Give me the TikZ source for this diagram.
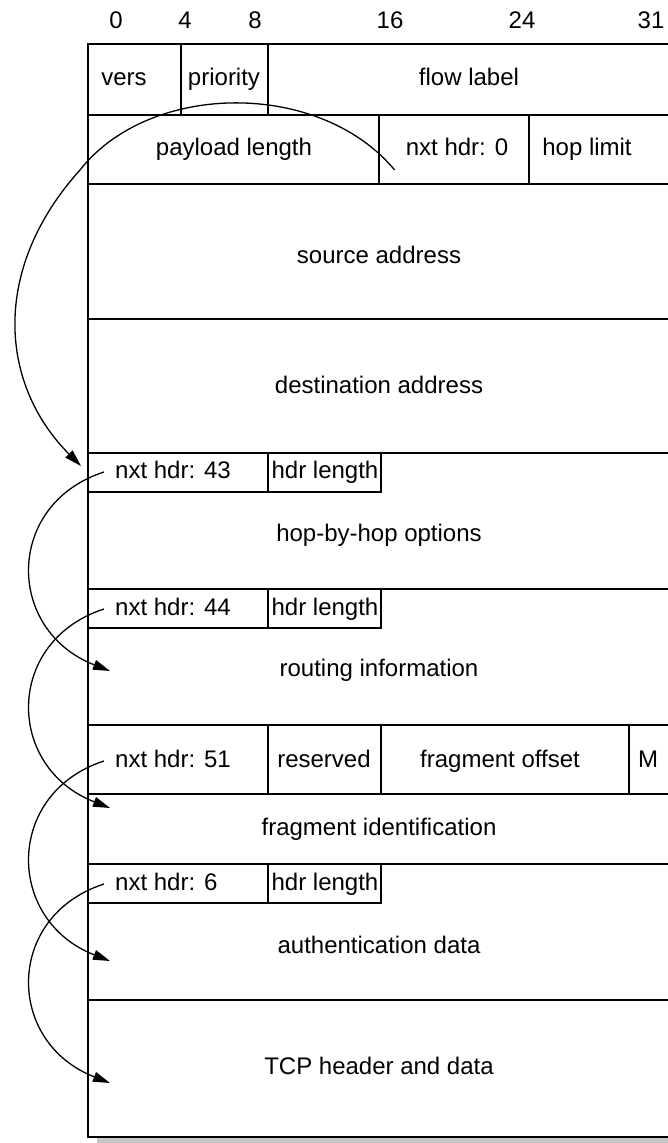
\documentclass[tikz,border=0pt]{standalone}
\usepackage{fontspec}
\setmainfont{Liberation Sans}
\usetikzlibrary{arrows.meta}
\begin{document}
\begin{tikzpicture}[x=1pt, y=-1pt,
        every node/.style={font=\fontsize{24}{28}\selectfont, inner sep=0pt, text height=17pt, text depth=5pt},
        box/.style={line width=1.8pt},
        nxt/.style={line width=1.3pt, -{Triangle[length=17pt, width=10pt]}}]
        \useasboundingbox (0,0) rectangle (668,1143);
        % ── frame with its shadow ──────────────────────────
        \fill[gray!45] (97,50) rectangle (678,1143);
        \filldraw[box, fill=white] (88,44) rectangle (670,1137);
        \foreach \y in {115,184,319,453,589,725,794,864,1000}
            \draw[box] (88,\y) -- (670,\y);
        % ── bit positions ──────────────────────────
        \foreach \x/\b in {116/0, 185/4, 255/8, 390/16, 522/24, 651/31}
            \node (bit\b) at (\x,22) {\b};
        % ── fixed IPv6 header ──────────────────────────
        \draw[box] (181,44) -- (181,115);
        \draw[box] (268,44) -- (268,115);
        \draw[box] (379,115) -- (379,184);
        \draw[box] (529,115) -- (529,184);
        \node (vers) at (124,79) {vers};
        \node (prio) at (224,79) {priority};
        \node (flow) at (469,79) {flow label};
        \node (plen) at (234,149) {payload length};
        \node (n0) at (457,149) {nxt hdr: 0};
        \node (hlim) at (587,149) {hop limit};
        \node (src) at (379,257) {source address};
        \node (dst) at (379,387) {destination address};
        % ── hop-by-hop options ──────────────────────────
        \draw[box] (88,492) -- (381,492) -- (381,453);
        \draw[box] (268,453) -- (268,492);
        \node[anchor=west] (n43) at (115,472) {nxt hdr: 43};
        \node (hl1) at (325,472) {hdr length};
        \node (hbh) at (379,535) {hop-by-hop options};
        % ── routing ──────────────────────────
        \draw[box] (88,628) -- (381,628) -- (381,589);
        \draw[box] (268,589) -- (268,628);
        \node[anchor=west] (n44) at (115,609) {nxt hdr: 44};
        \node (hl2) at (325,609) {hdr length};
        \node (rt) at (379,670) {routing information};
        % ── fragment ──────────────────────────
        \draw[box] (268,725) -- (268,794);
        \draw[box] (381,725) -- (381,794);
        \draw[box] (629,725) -- (629,794);
        \node[anchor=west] (n51) at (115,761) {nxt hdr: 51};
        \node (resv) at (324,761) {reserved};
        \node (foff) at (500,761) {fragment offset};
        \node (mflag) at (648,761) {M};
        \node (fid) at (379,829) {fragment identification};
        % ── authentication ──────────────────────────
        \draw[box] (88,903) -- (381,903) -- (381,864);
        \draw[box] (268,864) -- (268,903);
        \node[anchor=west] (n6) at (115,884) {nxt hdr: 6};
        \node (hl3) at (325,884) {hdr length};
        \node (auth) at (379,947) {authentication data};
        \node (tcp) at (379,1068) {TCP header and data};
        % ── next header chain ──────────────────────────
        \coordinate (hbh-in) at (81,466);
        \coordinate (rt-in) at (110,671);
        \coordinate (fr-in) at (110,808);
        \coordinate (au-in) at (110,961);
        \coordinate (tcp-in) at (110,1083);
        \draw[nxt] ([shift={(-11,21)}]n0.west) .. controls (320,80) and (150,81) .. (80,170)
            .. controls (-10,270) and (0,385) .. (hbh-in);
        \foreach \from/\to in {n43/rt-in, n44/fr-in, n51/au-in, n6/tcp-in}
            \draw[nxt] ([xshift=-11pt]\from.west) .. controls +(-99,32) and +(-105,-41) .. (\to);
    \end{tikzpicture}
\end{document}
